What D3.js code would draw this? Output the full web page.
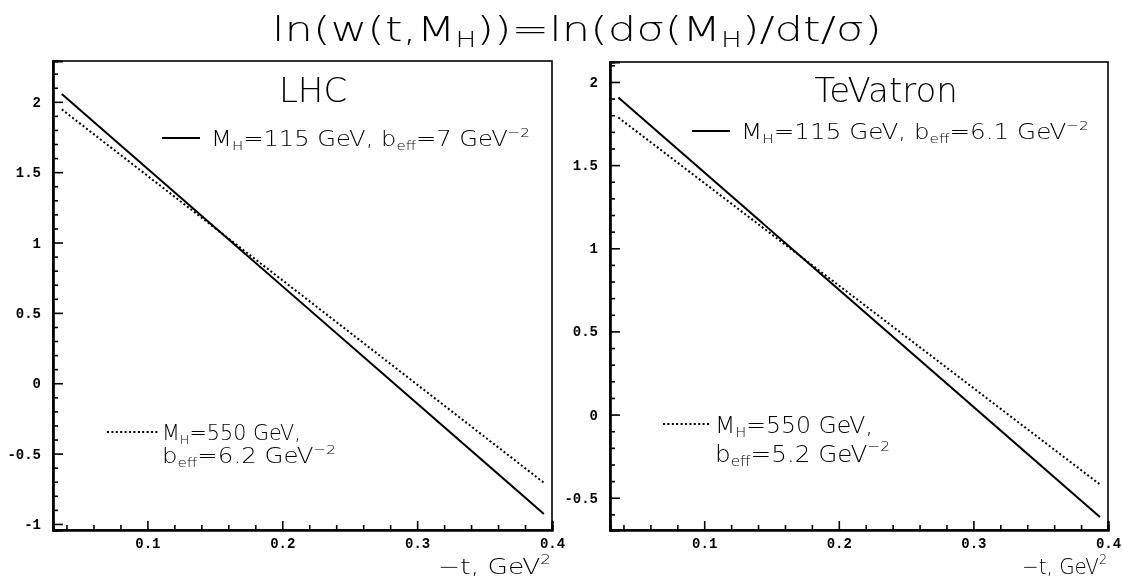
<!DOCTYPE html>
<html><head><meta charset="utf-8">
<script src="https://cdn.jsdelivr.net/npm/d3@7"></script>
<style>
body{margin:0;background:#fff;}
svg{display:block;will-change:transform;}
.lt{font-family:"DejaVu Sans",sans-serif;font-weight:200;fill:#000;}
.tk text{font-family:"Liberation Mono",monospace;font-weight:bold;font-size:14px;fill:#000;}
</style>
</head><body>
<script>
// ---- data ----
const tValues = [0.0365, 0.394];
const lhcM115 = [2.055, -0.929];
const lhcM550 = [1.946, -0.707];
const tevT = [0.0362, 0.394];
const tevM115 = [1.906, -0.616];
const tevM550 = [1.786, -0.42];
const xMajor = [0.1, 0.2, 0.3, 0.4];
const xMinor = [0.04,0.06,0.08,0.12,0.14,0.16,0.18,0.22,0.24,0.26,0.28,0.32,0.34,0.36,0.38];
const lhcYMajor = [-1, -0.5, 0, 0.5, 1, 1.5, 2];
const tevYMajor = [-0.5, 0, 0.5, 1, 1.5, 2];

const W = 1122, H = 581;
const svg = d3.select("body").append("svg").attr("width", W).attr("height", H);

// stretch a text horizontally to a target width, keeping its left edge (or anchor) fixed
function fit(sel, target){
  const b = sel.node().getBBox();
  if(!b.width) return;
  const k = target / b.width;
  const ax = sel.attr("text-anchor")==="middle" ? b.x + b.width/2 : (sel.attr("text-anchor")==="end" ? b.x + b.width : b.x);
  sel.attr("transform", `translate(${ax},0) scale(${k},1) translate(${-ax},0)`);
}

// title
const title = svg.append("text").attr("class","lt").attr("x",577).attr("y",41)
  .attr("text-anchor","middle").style("font-size","34px");
title.append("tspan").text("ln(w(t,M");
title.append("tspan").text("H").style("font-size","21px").attr("dy",6);
title.append("tspan").text("))=ln(dσ(M").attr("dy",-6);
title.append("tspan").text("H").style("font-size","21px").attr("dy",6);
title.append("tspan").text(")/dt/σ)").attr("dy",-6);
fit(title, 610);

function minorVals(lo, hi){
  const out=[]; for(let k=Math.round(lo*10);k<=Math.round(hi*10);k++){ if(k%5!==0) out.push(k/10);} return out;
}

function panel(cfg){
  const x = d3.scaleLinear().domain([0.03,0.4]).range([cfg.x0,cfg.x1]);
  const y = d3.scaleLinear().domain(cfg.yd).range([530, cfg.y1]);
  const g = svg.append("g");
  g.append("rect").attr("x",cfg.x0).attr("y",cfg.y1).attr("width",cfg.x1-cfg.x0).attr("height",530-cfg.y1)
    .attr("fill","none").attr("stroke","#000").attr("stroke-width",1.6);
  g.append("g").attr("class","tk").attr("transform",`translate(0,530)`)
    .call(d3.axisBottom(x).tickValues(xMajor).tickSize(-9).tickPadding(8).tickFormat(d3.format(".1f")));
  g.append("g").attr("class","tk").attr("transform",`translate(0,530)`)
    .call(d3.axisBottom(x).tickValues(xMinor).tickSize(-5).tickFormat(""));
  g.append("g").attr("class","tk").attr("transform",`translate(${cfg.x0},0)`)
    .call(d3.axisLeft(y).tickValues(cfg.yMajor).tickSize(-10).tickPadding(12).tickFormat(d=>String(d)));
  g.append("g").attr("class","tk").attr("transform",`translate(${cfg.x0},0)`)
    .call(d3.axisLeft(y).tickValues(cfg.yMinor).tickSize(-5).tickFormat(""));
  g.selectAll(".tk .domain").attr("stroke-width",2.2);
  g.selectAll(".tk line").attr("stroke-width",1.6);
  const line = d3.line().x(d=>x(d[0])).y(d=>y(d[1]));
  g.append("path").datum(cfg.t.map((t,i)=>[t,cfg.s1[i]])).attr("d",line)
    .attr("fill","none").attr("stroke","#000").attr("stroke-width",2);
  g.append("path").datum(cfg.t.map((t,i)=>[t,cfg.s2[i]])).attr("d",line)
    .attr("fill","none").attr("stroke","#000").attr("stroke-width",2).attr("stroke-dasharray","2,2.4");
  g.append("text").attr("class","lt").attr("x",cfg.tx).attr("y",102).attr("text-anchor","middle")
    .style("font-size","34px").text(cfg.name);
  // legend 1
  g.append("line").attr("x1",cfg.l1[0]).attr("x2",cfg.l1[1]).attr("y1",cfg.l1[2]).attr("y2",cfg.l1[2])
    .attr("stroke","#000").attr("stroke-width",2.2);
  const t1 = g.append("text").attr("class","lt").attr("x",cfg.l1[1]+11).attr("y",cfg.l1[2]+8).style("font-size","21px");
  t1.append("tspan").text("M");
  t1.append("tspan").text("H").style("font-size","13px").attr("dy",4);
  t1.append("tspan").text("=115 GeV, b").attr("dy",-4);
  t1.append("tspan").text("eff").style("font-size","13px").attr("dy",4);
  t1.append("tspan").text("="+cfg.b1+" GeV").attr("dy",-4);
  t1.append("tspan").text("−2").style("font-size","13px").attr("dy",-9);
  fit(t1, cfg.l1[3]);
  // legend 2: [x1, x2, y, fontSize, width1, width2, lineGap]
  const fs2 = cfg.l2[3];
  g.append("line").attr("x1",cfg.l2[0]).attr("x2",cfg.l2[1]).attr("y1",cfg.l2[2]).attr("y2",cfg.l2[2])
    .attr("stroke","#000").attr("stroke-width",2.2).attr("stroke-dasharray","2,2.4");
  const t2 = g.append("text").attr("class","lt").attr("x",cfg.l2[1]+4).attr("y",cfg.l2[2]+fs2*0.38).style("font-size",fs2+"px");
  t2.append("tspan").text("M");
  t2.append("tspan").text("H").style("font-size",(fs2*0.62)+"px").attr("dy",4);
  t2.append("tspan").text("=550 GeV,").attr("dy",-4);
  fit(t2, cfg.l2[4]);
  const t3 = g.append("text").attr("class","lt").attr("x",cfg.l2[1]+4).attr("y",cfg.l2[2]+fs2*0.38+cfg.l2[6]).style("font-size",fs2+"px");
  t3.append("tspan").text("b");
  t3.append("tspan").text("eff").style("font-size",(fs2*0.62)+"px").attr("dy",4);
  t3.append("tspan").text("="+cfg.b2+" GeV").attr("dy",-4);
  t3.append("tspan").text("−2").style("font-size",(fs2*0.62)+"px").attr("dy",-fs2*0.45);
  fit(t3, cfg.l2[5]);
  // x title
  const xt = g.append("text").attr("class","lt").attr("x",cfg.x1-1).attr("y",574).attr("text-anchor","end").style("font-size","22px");
  xt.append("tspan").text("−t, GeV");
  xt.append("tspan").text("2").style("font-size","14px").attr("dy",-10);
  fit(xt, cfg.xtl);
}

panel({x0:53,x1:552,y1:61,yd:[-1.043,2.29],yMajor:lhcYMajor,yMinor:minorVals(-1,2.2),
  t:tValues,s1:lhcM115,s2:lhcM550,name:"LHC",tx:313,xtl:113,
  l1:[162,200,138,319],b1:"7",l2:[107,158,432,21,139,174,23],b2:"6.2"});
panel({x0:610,x1:1108,y1:62,yd:[-0.694,2.12],yMajor:tevYMajor,yMinor:minorVals(-0.6,2.1),
  t:tevT,s1:tevM115,s2:tevM550,name:"TeVatron",tx:886,xtl:85,
  l1:[692,730,131,348],b1:"6.1",l2:[663,711,424,23,158,175,29],b2:"5.2"});
</script>
</body></html>
